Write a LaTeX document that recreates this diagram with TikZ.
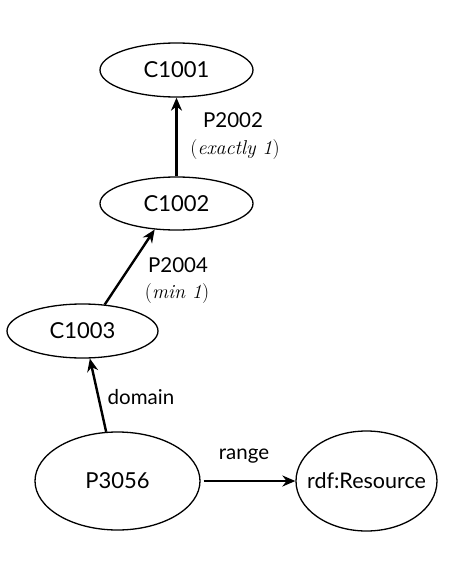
\documentclass[tikz,border=0pt]{standalone}
\usepackage{fontspec}
\newfontfamily\lab{Lato}
\usetikzlibrary{shapes.geometric,arrows.meta}
\begin{document}
\begin{tikzpicture}[x=1pt,y=-1pt,
  cls/.style={draw,ellipse,line width=1.3pt,inner sep=0pt,font=\lab\fontsize{22}{26}\selectfont},
  edge/.style={line width=2.4pt,-{Stealth[length=13pt,width=11pt]}},
  lbl/.style={font=\lab\fontsize{20.5}{24}\selectfont,inner sep=0pt},
  card/.style={font=\fontsize{20}{24}\selectfont,inner sep=0pt}]
\useasboundingbox (0,0) rectangle (468,565);
\node[cls,minimum width=153pt,minimum height=54pt] (c1) at (176.5,70) {C1001};
\node[cls,minimum width=153pt,minimum height=53pt] (c2) at (176.5,203.5) {C1002};
\node[cls,minimum width=151pt,minimum height=54pt] (c3) at (82.5,331) {C1003};
\node[cls,minimum width=165pt,minimum height=98pt] (p) at (117.5,481) {P3056};
\node[cls,minimum width=141pt,minimum height=100pt,font=\lab\fontsize{21.5}{24}\selectfont] (r) at (366.5,481) {\makebox[0pt]{rdf:Resource}};
\draw[edge] (c2.north) -- (c1.south);
\draw[edge] (c3.50) -- (c2.230);
\draw[edge] (p.103) -- (c3.285);
\draw[edge,shorten <=3pt] (p.east) -- (r.west);
\node[lbl] (l1) at (233,120) {P2002};
\node[card] (l1b) at (235,150) {(\textit{exactly 1})};
\node[lbl] (l2) at (178,265) {P2004};
\node[card] (l2b) at (177,294) {(\textit{min 1})};
\node[lbl] (l3) at (141,397) {domain};
\node[lbl] (l4) at (244,456) {range};
\end{tikzpicture}
\end{document}
